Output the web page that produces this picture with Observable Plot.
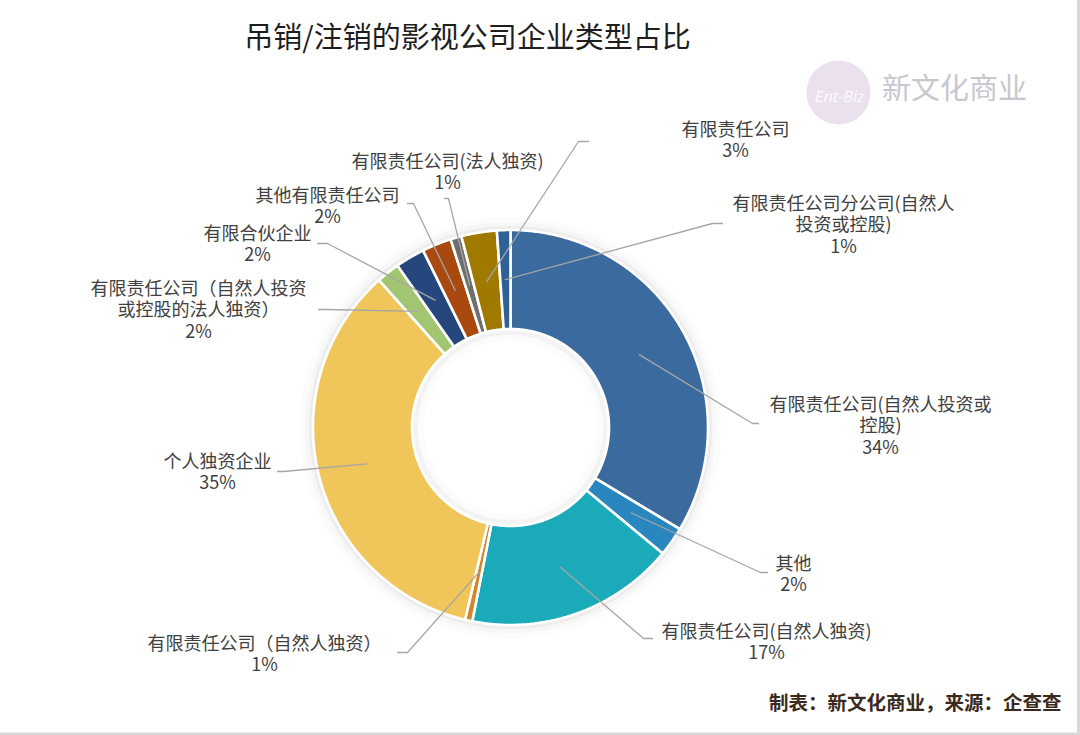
<!DOCTYPE html>
<html><head><meta charset="utf-8">
<script src="https://cdn.jsdelivr.net/npm/d3@7"></script>
<script src="https://cdn.jsdelivr.net/npm/@observablehq/plot@0.6"></script>
<style>body{margin:0;background:#fff;} #chart svg{display:block;}</style>
</head><body><div id="chart"></div>
<script>
// ---- data (clockwise from 12 o'clock) ----
const categories = [
  "有限责任公司(自然人投资或控股)",
  "其他",
  "有限责任公司(自然人独资)",
  "有限责任公司（自然人独资）",
  "个人独资企业",
  "有限责任公司（自然人投资或控股的法人独资）",
  "有限合伙企业",
  "其他有限责任公司",
  "有限责任公司(法人独资)",
  "有限责任公司",
  "有限责任公司分公司(自然人投资或控股)"
];
const values = [33.6, 2.4, 17.1, 0.6, 34.7, 1.9, 2.4, 2.4, 0.9, 2.9, 1.1];
const labelLines = [
  "有限责任公司(自然人投资或\n控股)",
  "其他",
  "有限责任公司(自然人独资)",
  "有限责任公司（自然人独资）",
  "个人独资企业",
  "有限责任公司（自然人投资\n或控股的法人独资）",
  "有限合伙企业",
  "其他有限责任公司",
  "有限责任公司(法人独资)",
  "有限责任公司",
  "有限责任公司分公司(自然人\n投资或控股)"
];
const colors = ["#3B6B9E","#2A86BE","#1BAAB9","#D2872F","#F0C55A","#A2C572","#26467E","#A9480F","#6E6E6E","#A07A00","#2F6096"];

// ---- layout (chart units = px relative to donut centre, y downward) ----
const R_IN = 98.5, R_OUT = 197.5, R_LEAD = 148;
const leaderElbow = [[242,-4],[250,145],[133,211],[-103,225],[-227,44],[-185,-118],[-183,-184],[-97,-224],[-62,-229],[68,-286],[202,-204]];
const leaderEnd   = [[248,-4],[257,145],[142,211],[-113,225],[-233,44],[-192,-118],[-193,-184],[-103,-224],[-66,-229],[78,-286],[212,-204]];
const labelAt     = [[370,-2],[283,146],[256,214],[-246,226],[-293,44],[-312,-118],[-253,-184],[-183,-222],[-63,-256],[225,-288],[333,-203]];

const total = d3.sum(values);
const arcs = d3.pie().sort(null).value(d => d)(values);
const pt = (r, a) => ({x: r * Math.sin(a), y: -r * Math.cos(a)});

const slicePts = [];
arcs.forEach((a, i) => {
  const n = Math.max(4, Math.ceil((a.endAngle - a.startAngle) / 0.008));
  for (let k = 0; k <= n; k++) slicePts.push({key: i, ...pt(R_OUT, a.startAngle + (a.endAngle - a.startAngle) * k / n)});
  for (let k = n; k >= 0; k--) slicePts.push({key: i, ...pt(R_IN, a.startAngle + (a.endAngle - a.startAngle) * k / n)});
});

const leaderPts = [];
arcs.forEach((a, i) => {
  const s = pt(R_LEAD, (a.startAngle + a.endAngle) / 2);
  leaderPts.push({key: i, x: s.x, y: s.y});
  leaderPts.push({key: i, x: leaderElbow[i][0], y: leaderElbow[i][1]});
  leaderPts.push({key: i, x: leaderEnd[i][0], y: leaderEnd[i][1]});
});

const labels = categories.map((c, i) => ({
  x: labelAt[i][0], y: labelAt[i][1],
  text: labelLines[i] + "\n" + Math.round(values[i] / total * 100) + "%"
}));

// soft shadow rings
const ringPts = [];
const rings = [{r: R_OUT + 2, w: 4, o: 0.06}, {r: R_OUT + 4, w: 8, o: 0.03}, {r: R_OUT + 7, w: 12, o: 0.015}, {r: R_IN - 3, w: 6, o: 0.05}, {r: R_IN - 7, w: 10, o: 0.02}];
rings.forEach((g, j) => {
  for (let k = 0; k <= 180; k++) ringPts.push({ring: j, w: g.w, o: g.o, ...pt(g.r, k / 180 * 2 * Math.PI)});
});

const FONT = "'Noto Sans CJK SC', 'Noto Sans', sans-serif";

const chart = Plot.plot({
  width: 1080, height: 735, margin: 0,
  x: {domain: [-510, 570], range: [0, 1080], axis: null},
  y: {domain: [-427, 308], range: [0, 735], axis: null},
  color: {domain: d3.range(categories.length), range: colors},
  style: {fontFamily: FONT, background: "#fff"},
  marks: [
    ...rings.map((g, j) => Plot.line(ringPts.filter(d => d.ring === j), {x: "x", y: "y", stroke: "#555", strokeWidth: g.w, strokeOpacity: g.o, curve: "linear-closed"})),
    Plot.line(slicePts, {x: "x", y: "y", z: "key", fill: "key", stroke: "white", strokeWidth: 2.6, curve: "linear-closed"}),
    Plot.line(leaderPts, {x: "x", y: "y", z: "key", stroke: "#a6a6a6", strokeWidth: 1.3}),
    Plot.text(labels, {x: "x", y: "y", text: "text", fontSize: 18, fill: "#404040", lineHeight: 1.2, lineAnchor: "middle", textAnchor: "middle"}),
    // title
    Plot.text(["吊销/注销的影视公司企业类型占比"], {x: -43, y: -389, fontSize: 29, fill: "#1e1e1e", lineAnchor: "middle", textAnchor: "middle"}),
    // watermark
    Plot.dot([{x: 328, y: -335}], {x: "x", y: "y", r: 32, fill: "#e6d8ea", fillOpacity: 0.8}),
    Plot.text(["Ent-Biz"], {x: 328, y: -330, fontSize: 15, fontStyle: "italic", fill: "#ffffff", fillOpacity: 0.9, lineAnchor: "middle", textAnchor: "middle"}),
    Plot.text(["新文化商业"], {x: 444, y: -338, fontSize: 29, fill: "#c7c7cf", lineAnchor: "middle", textAnchor: "middle"}),
    // caption
    Plot.text(["制表：新文化商业，来源：企查查"], {x: 551, y: 276, fontSize: 19.5, fontWeight: "bold", fill: "#3a2a1e", lineAnchor: "middle", textAnchor: "end"}),
    // frame edges
    Plot.ruleX([568], {stroke: "#d9d9d9", strokeWidth: 3}),
    Plot.ruleY([306.5], {stroke: "#d9d9d9", strokeWidth: 3})
  ]
});
document.getElementById("chart").appendChild(chart);
</script>
</body></html>
